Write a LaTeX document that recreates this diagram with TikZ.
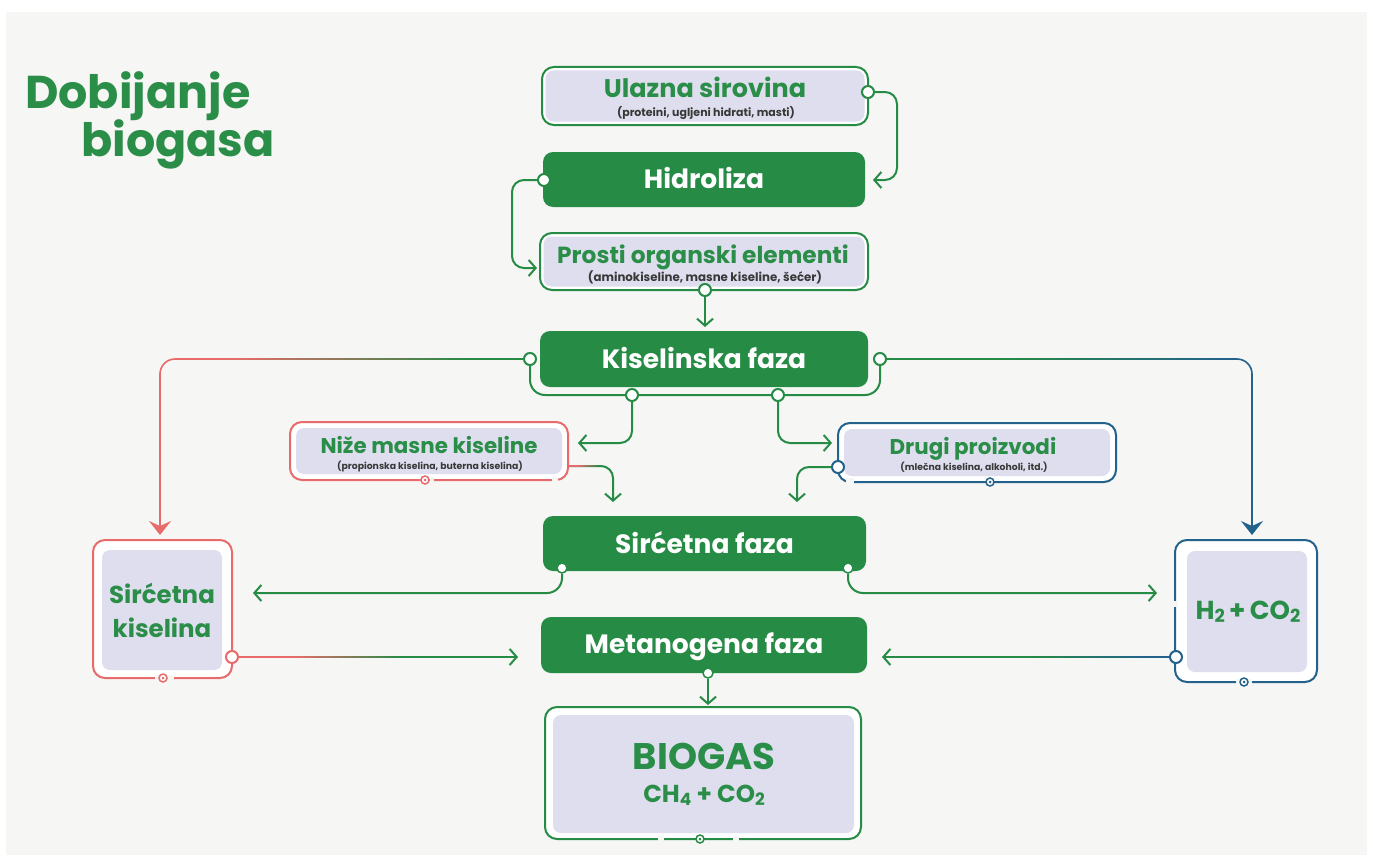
\documentclass[tikz,border=0pt]{standalone}
\usepackage{fontspec}
\setmainfont{Poppins}
\usetikzlibrary{arrows.meta,calc}
\definecolor{G}{HTML}{268B45}
\definecolor{TG}{HTML}{2A8E48}
\definecolor{R}{HTML}{E86B6B}
\definecolor{B}{HTML}{23628C}
\definecolor{BD}{HTML}{1C5A7E}
\definecolor{L}{HTML}{DFDEEF}
\definecolor{BG}{HTML}{F6F6F4}
\definecolor{ST}{HTML}{383838}
\newcommand\fsz[1]{\fontsize{#1}{#1}\selectfont}
\newcommand\chsub[2]{\raisebox{-3pt}{\fsz{#1}#2}}
\newcommand\gradh[6]{%
  \foreach \i in {1,...,24}{%
    \pgfmathsetmacro\xa{#2+(#3-#2)*(\i-1)/24}%
    \pgfmathsetmacro\xb{#2+(#3-#2)*\i/24}%
    \pgfmathsetmacro\pc{100*(\i-0.5)/24}%
    \draw[line width=#6, color=#5!\pc!#4] (\xa,#1) -- (\xb,#1);
  }}
\newcommand\gap[3]{\fill[BG] (#1,#3-3) rectangle (#2,#3+3);}
\begin{document}
\begin{tikzpicture}[x=1pt,y=-1pt,
  phase/.style={rounded corners=10pt, fill=G, inner sep=0},
  outer/.style={rounded corners=12pt, line width=2pt, fill=white, inner sep=0, draw=#1},
  inner/.style={rounded corners=8pt, fill=L, inner sep=0},
  ptext/.style={anchor=base, text=white, font=\bfseries\fsz{26.5}, inner sep=0},
  mtext/.style={anchor=base, text=TG, font=\bfseries\fsz{24}, inner sep=0},
  stext/.style={anchor=base, text=ST, font=\bfseries\fsz{11}, inner sep=0},
  dot/.style={circle, draw=#1, fill=white, line width=2pt, minimum size=12pt, inner sep=0},
  dot/.default=G,
  sdot/.style={circle, draw=G, fill=white, line width=1.5pt, minimum size=10pt, inner sep=0},
  tgt/.style={circle, draw=#1, fill=white, line width=1.5pt, minimum size=8pt, inner sep=0,
    path picture={\fill[#1] (path picture bounding box.center) circle (1.5pt);}},
  conn/.style={draw=G, line width=2pt, rounded corners=12pt},
  open/.style={-{Straight Barb[length=7pt,width=16pt]}},
  bigtip/.style={-{Stealth[length=14pt,width=22pt,inset=5pt]}}
]
\fill[white] (0,0) rectangle (1373,859);
\fill[BG] (6,12) rectangle (1367,855);
\useasboundingbox (0,0) rectangle (1373,859);

% title
\node[anchor=base west, text=TG, font=\bfseries\fsz{46}, inner sep=0] (t1) at (25,108) {Dobijanje};
\node[anchor=base west, text=TG, font=\bfseries\fsz{46}, inner sep=0] (t2) at (81,156) {biogasa};

% boxes
\node[outer=G, minimum width=326pt, minimum height=58pt] (ulO) at (705,96) {};
\node[inner, minimum width=319pt, minimum height=51pt] (ul) at (705,96) {};
\node[mtext, font=\bfseries\fsz{25.5}] (ulT) at (705,97) {Ulazna sirovina};
\node[stext] (ulS) at (706,116) {(proteini, ugljeni hidrati, masti)};

\node[phase, minimum width=322pt, minimum height=55pt] (hid) at (704,179.5) {};
\node[ptext] (hidT) at (704,188) {Hidroliza};

\node[outer=G, minimum width=328pt, minimum height=57pt] (proO) at (704,261.5) {};
\node[inner, minimum width=321pt, minimum height=50pt] (pro) at (704,261.5) {};
\node[mtext, font=\bfseries\fsz{23.3}] (proT) at (703,263) {Prosti organski elementi};
\node[stext, font=\bfseries\fsz{11.8}] (proS) at (705,281) {(aminokiseline, masne kiseline, šećer)};

\node[phase, minimum width=328pt, minimum height=56pt] (kis) at (704,359) {};
\node[ptext] (kisT) at (704,368) {Kiselinska faza};

\node[outer=R, minimum width=278pt, minimum height=58pt] (nizO) at (429,451) {};
\node[inner, minimum width=266pt, minimum height=46pt] (niz) at (429,451) {};
\node[mtext, font=\bfseries\fsz{21.4}] (nizT) at (429,453) {Niže masne kiseline};
\node[stext, font=\bfseries\fsz{9.3}] (nizS) at (430,469) {(propionska kiselina, buterna kiselina)};

\node[outer=B, minimum width=278pt, minimum height=59pt] (druO) at (977,452.5) {};
\node[inner, minimum width=266pt, minimum height=47pt] (dru) at (977,452.5) {};
\node[mtext, font=\bfseries\fsz{21.4}] (druT) at (973,454) {Drugi proizvodi};
\node[stext, font=\bfseries\fsz{9.25}] (druS) at (974,470) {(mlečna kiselina, alkoholi, itd.)};

\node[phase, minimum width=323pt, minimum height=55pt] (sir) at (704.5,543.5) {};
\node[ptext] (sirT) at (704.5,553) {Sirćetna faza};

\node[phase, minimum width=326pt, minimum height=56pt] (met) at (704,645) {};
\node[ptext] (metT) at (704,653) {Metanogena faza};

\node[outer=R, minimum width=139pt, minimum height=138pt] (skO) at (162.5,609) {};
\node[inner, minimum width=120pt, minimum height=120pt] (sk) at (162,610) {};
\node[mtext, font=\bfseries\fsz{24.5}] (skT1) at (162,603) {Sirćetna};
\node[mtext, font=\bfseries\fsz{24.5}] (skT2) at (162,637) {kiselina};

\node[outer=B, minimum width=142pt, minimum height=142pt] (hcO) at (1246,611) {};
\node[inner, minimum width=120pt, minimum height=121pt] (hc) at (1247,611.5) {};
\node[mtext, font=\bfseries\fsz{26}] (hcT) at (1248,619) {H\chsub{18}{2}\,+\,CO\chsub{18}{2}};

\node[outer=G, minimum width=316pt, minimum height=132pt] (bgO) at (703,773) {};
\node[inner, minimum width=301pt, minimum height=118pt] (bg) at (703.5,774) {};
\node[mtext, font=\bfseries\fsz{37}] (bgT) at (704,769) {BIOGAS};
\node[mtext, font=\bfseries\fsz{24.5}] (bgS) at (704,802) {CH\chsub{17}{4} + CO\chsub{17}{2}};

% small gaps in borders
\gap{552}{558}{480}
\gap{430}{434}{480}
\gap{846}{854}{481}
\fill[BG] (1172,601) rectangle (1178,607);
\gap{155}{174}{678}
\gap{1236}{1252}{682}
\gap{658}{664}{839}
\gap{733}{739}{839}

% arrow targets
\coordinate (a1) at (873,180);
\coordinate (a2) at (537,268);
\coordinate (a3) at (705,327);
\coordinate (a5) at (160,535);
\coordinate (a6) at (1252,535);
\coordinate (a7) at (578,443);
\coordinate (a8) at (832,443);
\coordinate (a9) at (613,502);
\coordinate (a10) at (797,502);
\coordinate (a11) at (253,593);
\coordinate (a12) at (1157,593);
\coordinate (a13) at (518,657);
\coordinate (a14) at (882,657);
\coordinate (a15) at (708,705);

% connector dots
\node[dot] (u1) at (868,92) {};
\node[dot] (h1) at (544,180) {};
\node[dot] (p1) at (705,290) {};
\node[dot] (kL) at (530,359) {};
\node[dot] (kR) at (880,359) {};
\coordinate (n1) at (568,466);
\node[dot=B] (d1) at (838,467) {};
\node[sdot] (s1) at (562,568) {};
\node[sdot] (s2) at (848,568) {};
\node[dot=R] (k1) at (232,657) {};
\node[dot=B] (c1) at (1176,657) {};
\node[sdot] (m1) at (708,673) {};

% connectors
\draw[conn, open] (u1.east) -- (897,92) -- (897,180) -- (a1);
\draw[conn, open] (h1.west) -- (512,180) -- (512,268) -- (a2);
\draw[conn, open] (p1.south) -- (a3);
\draw[G, line width=2pt, rounded corners=15pt] (kL.south) -- (530,395) -- (880,395) -- (kR.south);
\node[dot] (b1) at (632,395) {};
\node[dot] (b2) at (778,395) {};
\draw[conn, open] (b1.south) -- (632,443) -- (a7);
\draw[conn, open] (b2.south) -- (778,443) -- (a8);

\draw[R, line width=1.6pt, rounded corners=15pt, bigtip] (kL.west) -- (160,359) -- (a5);
\draw[G, line width=1.6pt] (kL.west) -- (470,359);
\gradh{359}{470}{230}{G}{R}{1.6pt}
\draw[B, line width=1.6pt, rounded corners=15pt, bigtip] (kR.east) -- (1252,359) -- (a6);
\draw[G, line width=1.6pt] (kR.east) -- (1000,359);
\gradh{359}{1000}{1230}{G}{B}{1.6pt}

\draw[conn, open] (n1) -- (613,466) -- (a9);
\draw[R, line width=2pt] (n1) -- (578,466);
\gradh{466}{578}{600}{R}{G}{2pt}
\draw[conn, open] (d1.west) -- (797,467) -- (a10);

\draw[conn, open, rounded corners=15pt] (s1.south) -- (562,593) -- (a11);
\draw[conn, open, rounded corners=15pt] (s2.south) -- (848,593) -- (a12);

\draw[conn, open] (k1.east) -- (a13);
\draw[R, line width=2pt] (k1.east) -- (295,657);
\gradh{657}{295}{400}{R}{G}{2pt}
\draw[conn, open] (c1.west) -- (a14);
\draw[B, line width=2pt] (c1.west) -- (1150,657);
\gradh{657}{1150}{1030}{B}{G}{2pt}
\draw[conn, open] (m1.south) -- (a15);

% targets
\node[tgt=R] (tn) at (425,480) {};
\node[tgt=B] (td) at (990,482) {};
\node[tgt=R] (tk) at (163,678) {};
\node[tgt=B] (th) at (1244,682) {};
\node[tgt=G] (tb) at (700,839) {};
\end{tikzpicture}
\end{document}
